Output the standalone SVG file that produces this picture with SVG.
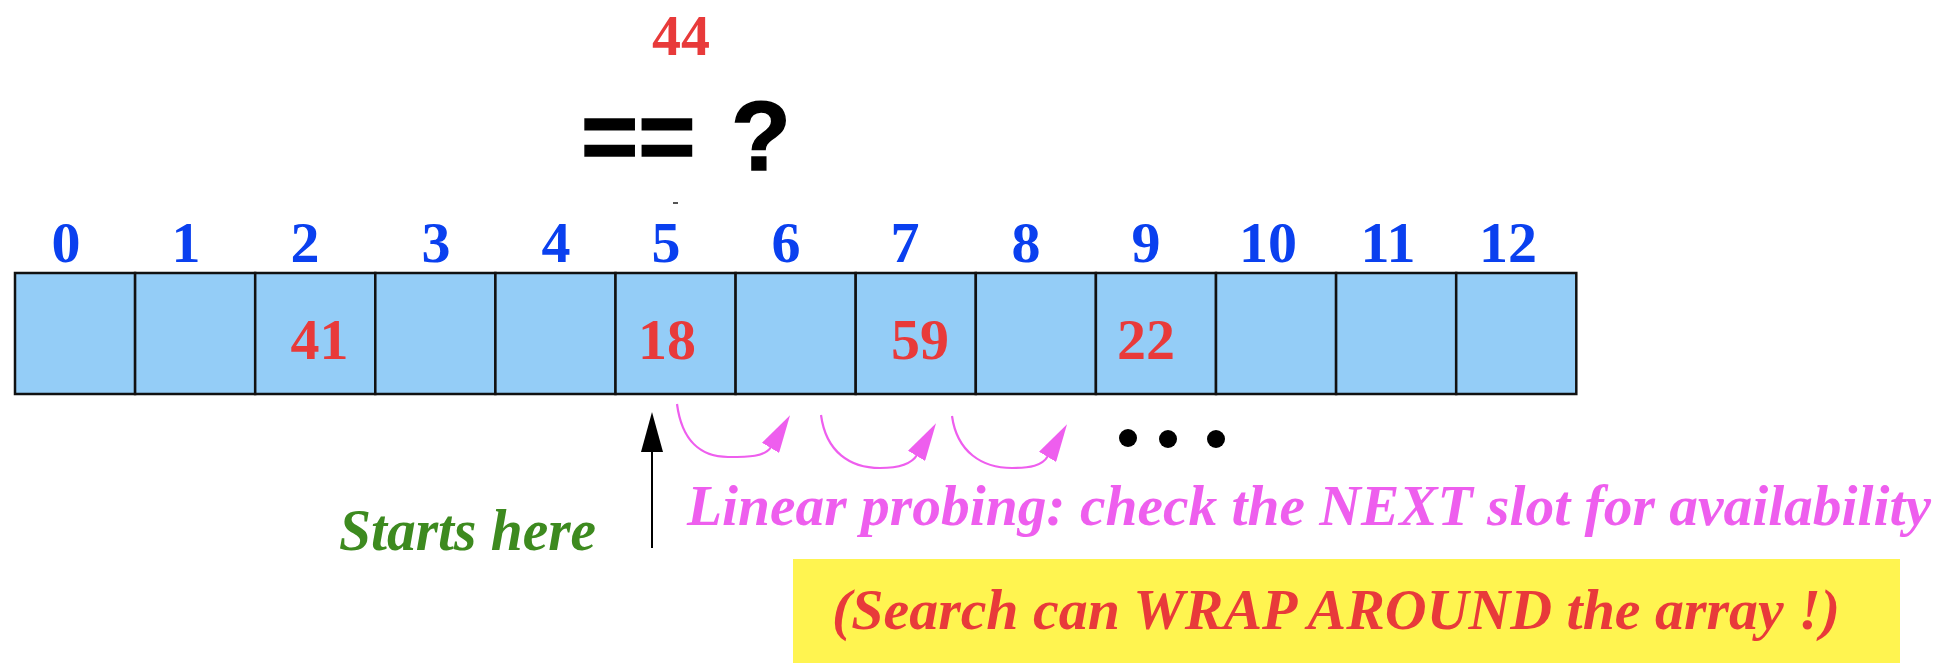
<svg xmlns="http://www.w3.org/2000/svg" width="1940" height="663" viewBox="0 0 1940 663">
  <style>
    .cell { fill: #94cdf7; stroke: #111; stroke-width: 2.5; }
    .idx { font-family: "Liberation Serif", serif; font-weight: bold; font-size: 58px; fill: #0a40ef; text-anchor: middle; }
    .val { font-family: "Liberation Serif", serif; font-weight: bold; font-size: 58px; fill: #e83a3a; text-anchor: middle; }
    .probe { fill: none; stroke: #ee5eee; stroke-width: 2.2; }
    .dot { fill: #000; }
    .bi { font-family: "Liberation Serif", serif; font-weight: bold; font-style: italic; }
  </style>
  <defs>
    <marker id="pinkhead" markerUnits="userSpaceOnUse" viewBox="0 0 38 20" refX="1" refY="10" markerWidth="38" markerHeight="20" orient="auto">
      <path d="M0,0 L38,10 L0,20 Z" fill="#ee5eee"/>
    </marker>
  </defs>
  <rect width="1940" height="663" fill="#fff"/>

  <g id="key">
    <text x="681" y="55" class="val">44</text>
  </g>
  <g id="compare">
    <text x="581" y="170" font-family="Liberation Sans, sans-serif" font-weight="bold" font-size="98" fill="#000" stroke="#000" stroke-width="1.5">==<tspan x="731">?</tspan></text>
    <rect x="673" y="202" width="5" height="2" fill="#555"/>
  </g>

  <g id="indices">
    <text x="66" y="262" class="idx">0</text>
    <text x="186" y="262" class="idx">1</text>
    <text x="305" y="262" class="idx">2</text>
    <text x="436" y="262" class="idx">3</text>
    <text x="556" y="262" class="idx">4</text>
    <text x="666" y="262" class="idx">5</text>
    <text x="786" y="262" class="idx">6</text>
    <text x="905" y="262" class="idx">7</text>
    <text x="1026" y="262" class="idx">8</text>
    <text x="1146" y="262" class="idx">9</text>
    <text x="1268" y="262" class="idx">10</text>
    <text x="1388" y="262" class="idx">11</text>
    <text x="1508" y="262" class="idx">12</text>
  </g>

  <g id="array">
    <g id="cell0"><rect class="cell" x="15" y="273" width="120.1" height="121"/></g>
    <g id="cell1"><rect class="cell" x="135.1" y="273" width="120.1" height="121"/></g>
    <g id="cell2"><rect class="cell" x="255.2" y="273" width="120.1" height="121"/><text x="319.5" y="359" class="val">41</text></g>
    <g id="cell3"><rect class="cell" x="375.3" y="273" width="120.1" height="121"/></g>
    <g id="cell4"><rect class="cell" x="495.4" y="273" width="120.1" height="121"/></g>
    <g id="cell5"><rect class="cell" x="615.5" y="273" width="120.1" height="121"/><text x="667" y="359" class="val">18</text></g>
    <g id="cell6"><rect class="cell" x="735.6" y="273" width="120.1" height="121"/></g>
    <g id="cell7"><rect class="cell" x="855.7" y="273" width="120.1" height="121"/><text x="920" y="359" class="val">59</text></g>
    <g id="cell8"><rect class="cell" x="975.8" y="273" width="120.1" height="121"/></g>
    <g id="cell9"><rect class="cell" x="1095.9" y="273" width="120.1" height="121"/><text x="1146" y="359" class="val">22</text></g>
    <g id="cell10"><rect class="cell" x="1216" y="273" width="120.1" height="121"/></g>
    <g id="cell11"><rect class="cell" x="1336.1" y="273" width="120.1" height="121"/></g>
    <g id="cell12"><rect class="cell" x="1456.2" y="273" width="120.1" height="121"/></g>
  </g>

  <g id="connectors">
    <line x1="652" y1="450" x2="652" y2="548" stroke="#000" stroke-width="2"/>
    <polygon points="652,412 641,452 663,452" fill="#000"/>
    <path class="probe" marker-end="url(#pinkhead)" d="M677,404 C682,442 702,457 728,457 C748,457 765,457 771,447"/>
    <path class="probe" marker-end="url(#pinkhead)" d="M821,415 C826,452 850,468 880,468 C898,468 911,465 917,455"/>
    <path class="probe" marker-end="url(#pinkhead)" d="M952,416 C957,452 982,468 1012,468 C1030,468 1042,466 1048,456"/>
  </g>

  <g id="ellipsis">
    <circle class="dot" cx="1128" cy="438" r="9"/>
    <circle class="dot" cx="1168" cy="439" r="9"/>
    <circle class="dot" cx="1216" cy="439" r="9"/>
  </g>

  <g id="starts-label">
    <text x="339" y="550" class="bi" font-size="60" fill="#3d8a1f" textLength="257" lengthAdjust="spacingAndGlyphs">Starts here</text>
  </g>
  <g id="probe-label">
    <text x="687" y="525" class="bi" font-size="58" fill="#ee5eee" textLength="1244" lengthAdjust="spacingAndGlyphs">Linear probing: check the NEXT slot for availability</text>
  </g>
  <g id="wrap-note">
    <rect x="793" y="559" width="1107" height="104" fill="#fff450"/>
    <text x="832" y="629" class="bi" font-size="56" fill="#e83a3a" textLength="1008" lengthAdjust="spacingAndGlyphs">(Search can WRAP AROUND the array !)</text>
  </g>
</svg>
